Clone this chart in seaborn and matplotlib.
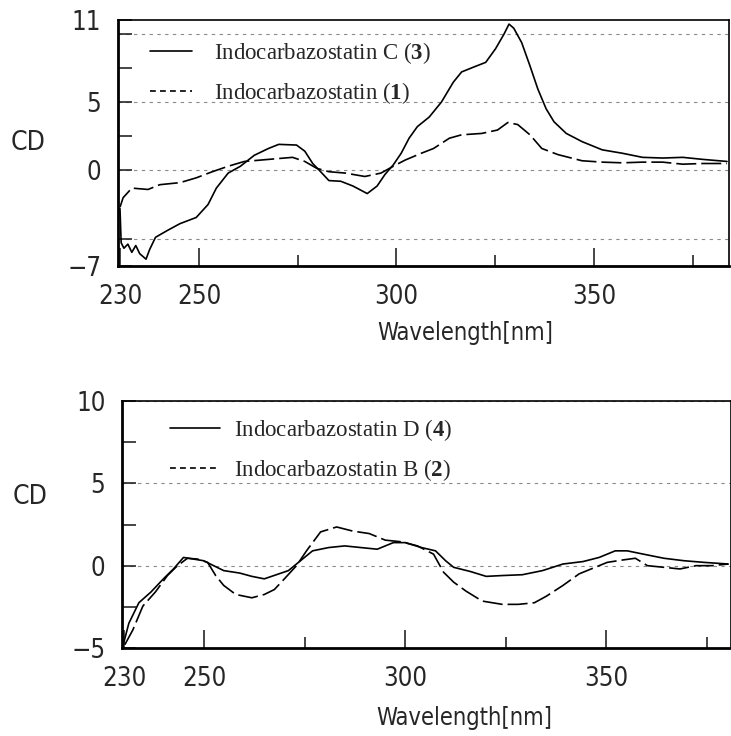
import numpy as np
import pandas as pd
import seaborn as sns
import matplotlib
matplotlib.use("Agg")
import matplotlib.pyplot as plt
from matplotlib.lines import Line2D

# ---------------- data ----------------
# Top panel: Indocarbazostatin C (3) (solid)
wl_c = [230.0, 230.3, 231.0, 232.0, 233.0, 234.0, 235.0, 236.6, 237.5, 239.0, 242.0, 245.2,
        249.3, 252.3, 254.4, 257.4, 260.5, 264.0, 267.6, 270.2, 274.7, 276.8, 278.8, 280.8,
        282.9, 285.9, 289.0, 292.6, 295.1, 297.1, 299.2, 301.2, 303.2, 305.3, 308.3, 311.4,
        314.4, 316.5, 319.5, 322.6, 325.1, 327.2, 328.5, 329.7, 331.7, 333.8, 335.8, 337.9,
        339.9, 343.0, 347.0, 352.1, 357.2, 362.3, 367.4, 372.5, 377.6, 383.7]
cd_c = [-2.8, -5.3, -5.7, -5.4, -6.0, -5.5, -6.1, -6.5, -5.8, -4.9, -4.4, -3.9,
        -3.45, -2.5, -1.3, -0.2, 0.3, 1.1, 1.6, 1.9, 1.85, 1.4, 0.5, -0.1,
        -0.75, -0.8, -1.15, -1.7, -1.15, -0.3, 0.4, 1.25, 2.35, 3.2, 3.9, 5.0,
        6.45, 7.2, 7.55, 7.9, 8.9, 9.95, 10.7, 10.4, 9.35, 7.65, 5.95, 4.5,
        3.55, 2.7, 2.1, 1.5, 1.25, 0.95, 0.9, 0.95, 0.8, 0.65]

# Top panel: Indocarbazostatin (1) (dashed)
wl_1 = [230.0, 230.8, 233.0, 237.1, 240.1, 245.2, 249.3, 253.4, 257.4, 261.5, 265.6, 269.6,
        273.7, 276.8, 279.8, 282.9, 287.0, 292.0, 296.1, 299.2, 302.2, 306.3, 309.4, 313.4,
        316.5, 321.6, 325.6, 328.2, 330.7, 333.8, 336.8, 340.9, 347.0, 352.1, 357.2, 362.3,
        367.4, 372.5, 377.6, 383.7]
cd_1 = [-2.7, -2.0, -1.3, -1.4, -1.05, -0.9, -0.55, -0.1, 0.3, 0.65, 0.75, 0.85,
        0.95, 0.65, 0.15, -0.1, -0.2, -0.45, -0.2, 0.3, 0.75, 1.25, 1.6, 2.35,
        2.6, 2.7, 2.95, 3.5, 3.35, 2.6, 1.6, 1.15, 0.7, 0.6, 0.55, 0.6,
        0.6, 0.45, 0.5, 0.5]

# Bottom panel: Indocarbazostatin D (4) (solid)
wl_d = [229.7, 231.2, 233.7, 236.7, 239.8, 242.3, 244.8, 247.3, 249.8, 252.3, 254.8, 258.8,
        261.8, 264.9, 267.9, 270.9, 273.9, 276.9, 280.9, 284.9, 288.9, 293.0, 297.0, 300.0,
        304.0, 307.5, 310.0, 312.0, 316.1, 320.1, 324.1, 329.1, 334.1, 339.2, 344.2, 348.2,
        352.2, 355.2, 359.2, 364.3, 369.3, 374.3, 380.3]
cd_d = [-4.9, -3.5, -2.25, -1.6, -0.8, -0.2, 0.5, 0.4, 0.3, 0.0, -0.3, -0.45,
        -0.65, -0.8, -0.55, -0.3, 0.3, 0.9, 1.1, 1.2, 1.1, 1.0, 1.4, 1.4,
        1.1, 0.9, 0.3, -0.1, -0.35, -0.65, -0.6, -0.55, -0.3, 0.1, 0.25, 0.5,
        0.9, 0.9, 0.7, 0.45, 0.3, 0.2, 0.1]

# Bottom panel: Indocarbazostatin B (2) (dashed)
wl_b = [230.2, 232.2, 234.7, 237.8, 240.8, 243.3, 245.8, 248.3, 250.8, 252.8, 254.8, 257.8,
        261.8, 264.9, 267.4, 269.9, 272.9, 275.4, 278.9, 282.9, 286.9, 291.0, 295.0, 299.0,
        303.0, 307.0, 309.5, 312.0, 315.1, 319.1, 324.1, 328.1, 332.1, 335.1, 339.2, 343.2,
        347.2, 350.2, 354.2, 357.2, 360.2, 364.3, 368.3, 372.3, 376.3, 380.3]
cd_b = [-4.8, -3.9, -2.45, -1.6, -0.6, 0.0, 0.45, 0.4, 0.2, -0.6, -1.2, -1.75,
        -1.95, -1.75, -1.45, -0.8, 0.0, 0.9, 2.05, 2.35, 2.1, 1.95, 1.55, 1.45,
        1.2, 0.7, -0.4, -1.0, -1.55, -2.15, -2.35, -2.35, -2.25, -1.85, -1.2, -0.5,
        -0.1, 0.2, 0.35, 0.45, 0.0, -0.1, -0.2, 0.0, 0.0, 0.1]

top_labels = ["Indocarbazostatin C ($\\mathbf{3}$)", "Indocarbazostatin ($\\mathbf{1}$)"]
bot_labels = ["Indocarbazostatin D ($\\mathbf{4}$)", "Indocarbazostatin B ($\\mathbf{2}$)"]

top_xticks = [230, 250, 300, 350]
top_yticks = [-7, 0, 5, 11]
bot_xticks = [230, 250, 300, 350]
bot_yticks = [-5, 0, 5, 10]

# ---------------- style ----------------
sns.set_style("white")
plt.rcParams["font.family"] = ["DejaVu Sans Condensed", "DejaVu Sans"]
plt.rcParams["font.stretch"] = "condensed"
plt.rcParams["mathtext.fontset"] = "custom"
plt.rcParams["mathtext.rm"] = "Liberation Serif"
plt.rcParams["mathtext.bf"] = "Liberation Serif:bold"
plt.rcParams["axes.unicode_minus"] = True

fig = plt.figure(figsize=(7.31, 7.36), dpi=100)
ax1 = fig.add_axes([118 / 731, (736 - 266) / 736, (729 - 118) / 731, 246 / 736])
ax2 = fig.add_axes([122 / 731, (736 - 648) / 736, (731 - 122) / 731, 247 / 736])

DASH = (12, 3)
TICK_FS = 18.5


def panel(ax, wa, ca, wb, cb, labels, xlim, ylim, xticks, yticks, yminor, grid_y,
          xlabel_pos, ylabel_pos, leg_anchor, handlelen, textpad):
    df = pd.concat([
        pd.DataFrame({"wl": wa, "cd": ca, "s": labels[0]}),
        pd.DataFrame({"wl": wb, "cd": cb, "s": labels[1]}),
    ])
    for y in grid_y:
        ax.axhline(y, color="#8a8a8a", lw=0.8, ls=(0, (3, 4)), zorder=0)
    sns.lineplot(data=df, x="wl", y="cd", style="s", color="black",
                 dashes={labels[0]: "", labels[1]: DASH}, lw=1.2,
                 sort=False, estimator=None, legend=False, ax=ax)
    ax.set_xlim(*xlim)
    ax.set_ylim(*ylim)
    ax.set_xticks(xticks)
    ax.set_xticklabels([str(t) for t in xticks])
    ax.set_xticks([275, 325, 375], minor=True)
    ax.set_yticks(yticks)
    ax.set_yticklabels([str(t).replace("-", "\u2212") for t in yticks])
    ax.set_yticks(yminor, minor=True)
    ax.tick_params(axis="x", which="major", direction="in", length=13, width=1.2,
                   labelsize=TICK_FS, pad=13, bottom=True)
    ax.tick_params(axis="x", which="minor", direction="in", length=8, width=1.2, bottom=True)
    ax.tick_params(axis="y", which="major", direction="in", length=10, width=1.2,
                   labelsize=TICK_FS, pad=12, left=True)
    ax.tick_params(axis="y", which="minor", direction="in", length=10, width=1.2, left=True)
    for side in ["left", "bottom"]:
        ax.spines[side].set_linewidth(2.0)
        ax.spines[side].set_color("black")
    ax.spines["top"].set_linewidth(1.2)
    ax.spines["top"].set_color("black")
    ax.spines["right"].set_linewidth(1.2)
    ax.spines["right"].set_color("black")
    ax.set_xlabel("Wavelength[nm]", fontsize=17)
    ax.xaxis.set_label_coords(*xlabel_pos)
    ax.set_ylabel("CD", fontsize=19, rotation=0, ha="center", va="center")
    ax.yaxis.set_label_coords(*ylabel_pos)
    handles = [Line2D([], [], color="black", lw=1.2),
               Line2D([], [], color="black", lw=1.2, ls=(0, (3.5, 2.5)))]
    ax.legend(handles, labels, loc="upper left", bbox_to_anchor=leg_anchor,
              frameon=False, prop={"family": "Liberation Serif", "size": 16.5,
                                   "stretch": "normal"},
              handlelength=handlelen, handletextpad=textpad, labelspacing=0.6,
              borderpad=0, borderaxespad=0)


panel(ax1, wl_c, cd_c, wl_1, cd_1, top_labels, (229.5, 384.2), (-7, 11),
      top_xticks, top_yticks, [-5, 2.5, 7.5, 10], [-5, 0, 5, 10],
      ((465 - 118) / 611, -0.225), (-0.147, 0.5), ((150 - 118) / 611, 1 - (40 - 20) / 246),
      1.85, 0.95)
panel(ax2, wl_d, cd_d, wl_b, cd_b, bot_labels, (229.5, 381.0), (-5, 10),
      bot_xticks, bot_yticks, [-2.5, 2.5, 7.5], [0, 5, 10],
      ((464 - 122) / 609, -0.235), (-0.151, 0.611), ((170 - 122) / 609, 1 - (417 - 401) / 247),
      2.2, 0.6)
ax2.spines["top"].set_linestyle((0, (6, 1)))

fig.savefig("out.png", dpi=100)
